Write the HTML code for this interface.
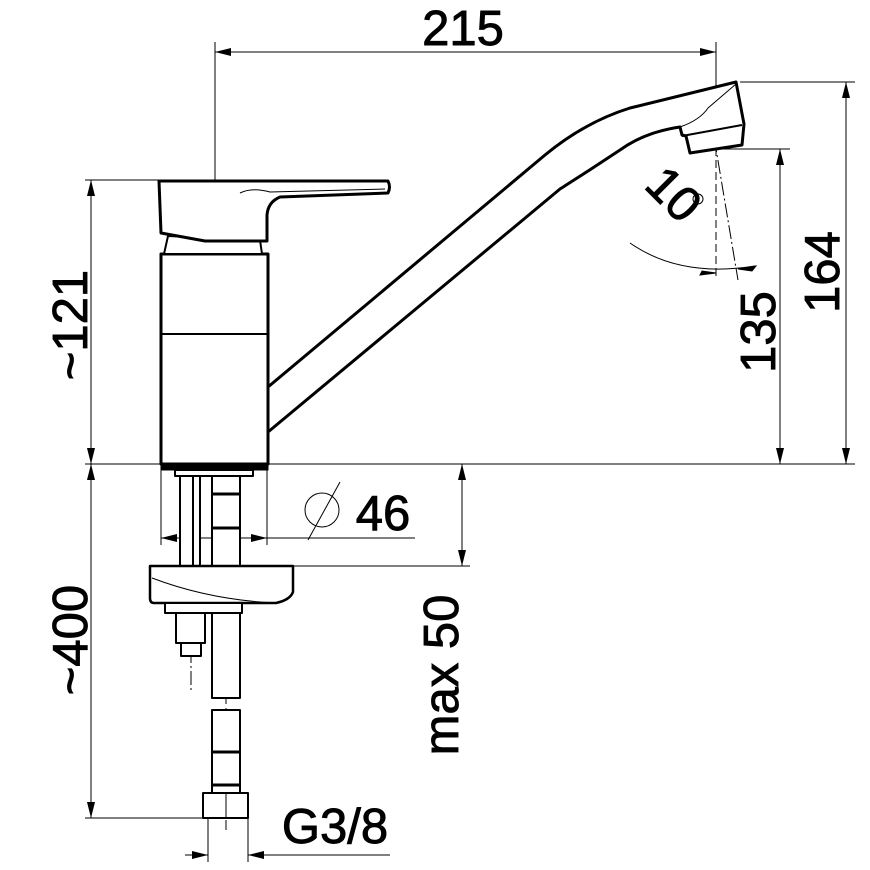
<!DOCTYPE html>
<html><head><meta charset="utf-8"><style>html,body{margin:0;background:#fff}svg{display:block}text{font-family:"Liberation Sans",Arial,sans-serif;font-size:49px;fill:#000;stroke:#000;stroke-width:0.9}</style></head><body>
<svg width="870" height="870" viewBox="0 0 870 870" xmlns="http://www.w3.org/2000/svg">
<defs>
<marker id="a" viewBox="0 0 16 8" refX="16" refY="4" markerWidth="16" markerHeight="8" orient="auto" markerUnits="userSpaceOnUse"><path d="M0,0L16,4L0,8Z" fill="#000"/></marker>
</defs>
<g stroke="#000" stroke-width="1" fill="none">
<line x1="215" y1="42" x2="215" y2="172"/>
<line x1="716" y1="42" x2="716" y2="100"/>
<line x1="740" y1="82" x2="855" y2="82"/>
<line x1="716" y1="149" x2="790" y2="149"/>
<line x1="85" y1="464" x2="855" y2="464"/>
<line x1="85" y1="180" x2="160" y2="180"/>
<line x1="85" y1="818" x2="205" y2="818"/>
<line x1="161" y1="464" x2="161" y2="545"/>
<line x1="267" y1="464" x2="267" y2="545"/>
<line x1="293" y1="566" x2="470" y2="566"/>
<line x1="208" y1="818" x2="208" y2="862"/>
<line x1="248" y1="818" x2="248" y2="862"/>
<line x1="215" y1="52" x2="716" y2="52" marker-end="url(#a)"/>
<line x1="716" y1="52" x2="215" y2="52" marker-end="url(#a)"/>
<line x1="846" y1="464" x2="846" y2="82" marker-end="url(#a)"/>
<line x1="846" y1="82" x2="846" y2="464" marker-end="url(#a)"/>
<line x1="780" y1="464" x2="780" y2="149" marker-end="url(#a)"/>
<line x1="780" y1="149" x2="780" y2="464" marker-end="url(#a)"/>
<line x1="91" y1="464" x2="91" y2="180" marker-end="url(#a)"/>
<line x1="91" y1="180" x2="91" y2="464" marker-end="url(#a)"/>
<line x1="91" y1="818" x2="91" y2="464" marker-end="url(#a)"/>
<line x1="91" y1="464" x2="91" y2="818" marker-end="url(#a)"/>
<line x1="462" y1="566" x2="462" y2="464" marker-end="url(#a)"/>
<line x1="462" y1="464" x2="462" y2="566" marker-end="url(#a)"/>
<line x1="415" y1="538" x2="161" y2="538" marker-end="url(#a)"/>
<line x1="240" y1="538" x2="267" y2="538" marker-end="url(#a)"/>
<line x1="185" y1="855" x2="208" y2="855" marker-end="url(#a)"/>
<line x1="390" y1="855" x2="248" y2="855" marker-end="url(#a)"/>
<circle cx="322" cy="510" r="17"/>
<line x1="308" y1="540" x2="340" y2="482"/>
<line x1="215" y1="172" x2="215" y2="690" stroke-dasharray="10,4"/>
<line x1="226" y1="470" x2="226" y2="830" stroke-dasharray="10,4"/>
<line x1="191" y1="495" x2="191" y2="690" stroke-dasharray="14,3,2,3"/>
<line x1="716" y1="100" x2="716" y2="278" stroke-dasharray="8,4"/>
<line x1="707" y1="95" x2="738" y2="280" stroke-dasharray="14,3,2,3"/>
<path d="M630,243 Q680,278 755,266"/>
<path d="M700,275 L716,273 L702,271Z" fill="#000"/>
<path d="M756,266 L738,269 L752,271Z" fill="#000"/>
<circle cx="698" cy="199" r="5"/>
</g>
<g stroke="#000" stroke-width="3" fill="#fff" stroke-linejoin="round">
<path d="M268,387 L545,155 Q585,122 630,108 L736,82 L744,124 L742,145 L690,153 L686,136 L682,135 L680,127 Q645,132 620,150 Q590,170 560,189 L268,432" />
<path d="M268,387 Q255,405 258,428 Q262,436 268,432" />
<path d="M682,136 L742,125" stroke-width="2"/>
<path d="M680,127 Q700,120 708,108 L736,84" stroke-width="1"/>
<rect x="161" y="254" width="107" height="210"/>
<line x1="161" y1="334" x2="268" y2="334" stroke-width="2"/>
<path d="M168,236 L164,254 L262,254 L260,240 Z" stroke-width="2"/>
<path d="M159,181 L388,181 Q391,187 388,193 L280,197 Q268,202 267,215 L267,241 L205,241 L161,233 Z"/>
<path d="M240,193 Q252,187 270,192 L385,189" stroke-width="1" fill="none"/>
<rect x="162" y="464" width="106" height="6" fill="#000" stroke-width="1"/>
<rect x="175" y="470" width="78" height="6" stroke-width="2"/>
<rect x="180" y="476" width="20" height="90" stroke-width="2"/>
<line x1="193" y1="476" x2="193" y2="566" stroke-width="2"/>
<rect x="212" y="476" width="28" height="90" stroke-width="2"/>
<line x1="211" y1="494" x2="241" y2="494"/>
<line x1="211" y1="528" x2="241" y2="528"/>
<path d="M150,566 L293,566 L293,592 Q290,600 276,603 L154,603 Q150,603 150,598 Z" stroke-width="2.5"/>
<path d="M152,578 Q210,600 276,603" stroke-width="1" fill="none"/>
<rect x="165" y="603" width="77" height="10" stroke-width="2"/>
<rect x="176" y="613" width="29" height="30" stroke-width="2"/>
<rect x="181" y="643" width="20" height="13" stroke-width="2"/>
<rect x="212" y="613" width="28" height="85" stroke-width="2"/>
<rect x="212" y="710" width="28" height="83" stroke-width="2"/>
<line x1="211" y1="752" x2="241" y2="752"/>
<line x1="211" y1="785" x2="241" y2="785"/>
<rect x="203" y="793" width="45" height="25" stroke-width="2"/>
<line x1="226" y1="793" x2="226" y2="818" stroke-width="1"/>
</g>
<text x="463" y="45" text-anchor="middle">215</text>
<text x="383" y="530" text-anchor="middle">46</text>
<text x="335" y="843" text-anchor="middle">G3/8</text>
<text transform="translate(839,272) rotate(-90)" text-anchor="middle">164</text>
<text transform="translate(775,332) rotate(-90)" text-anchor="middle">135</text>
<text transform="translate(87,325) rotate(-90)" text-anchor="middle">~121</text>
<text transform="translate(87,640) rotate(-90)" text-anchor="middle">~400</text>
<text transform="translate(458,675) rotate(-90)" text-anchor="middle">max 50</text>
<text transform="translate(662,206) rotate(45)" text-anchor="middle">10</text>
</svg>
</body></html>
